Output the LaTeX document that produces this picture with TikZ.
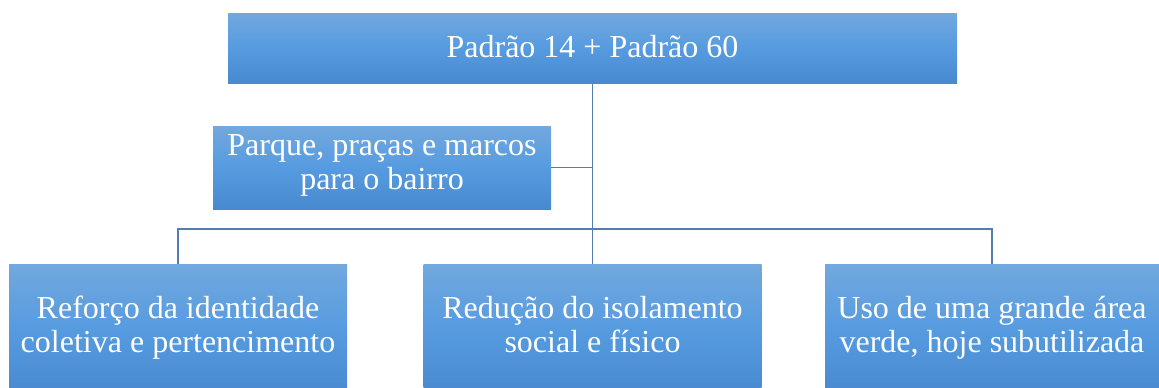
\documentclass[tikz,border=0pt]{standalone}
\usepackage{fontspec}
\setmainfont{Liberation Serif}
\usepackage{tikz}
\usetikzlibrary{calc,positioning}

\definecolor{boxtop}{HTML}{72A8DE}
\definecolor{boxmid}{HTML}{569BE0}
\definecolor{boxbot}{HTML}{4889CF}
\definecolor{linkblue}{HTML}{4F7DB4}

\begin{document}
\begin{tikzpicture}[x=1pt,y=-1pt,
    bloco/.style={top color=boxtop,bottom color=boxbot,middle color=boxmid,text=white,align=center,inner sep=0pt,
      font=\fontsize{32}{34}\selectfont},
    duaslinhas/.style={bloco,execute at begin node=\strut,execute at end node=\strut},
    ligacao/.style={draw=linkblue,line width=1.5pt}]
\useasboundingbox (0,0) rectangle (1159,388);
\node[bloco,minimum width=729,minimum height=70,text height=23,text depth=5] (topo) at (592.5,48) {Padrão 14 + Padrão 60};
\node[duaslinhas,minimum width=338,minimum height=83] (parque) at (382,167.5) {Parque, praças e marcos\\para o bairro};
\node[duaslinhas,minimum width=338,minimum height=130] (reforco) at (178,329) {Reforço da identidade\\coletiva e pertencimento};
\node[duaslinhas,minimum width=338,minimum height=130] (reducao) at (592.5,329) {Redução do isolamento\\social e físico};
\node[duaslinhas,minimum width=334,minimum height=130] (uso) at (992,329) {Uso de uma grande área\\verde, hoje subutilizada};
\coordinate (barra) at (592.5,229);
\draw[ligacao] (topo.south) -- (reducao.north);
\draw[ligacao] (parque.east) -- (parque.east -| topo.south);
\draw[ligacao] (reforco.north) |- (barra) -| (uso.north);
\end{tikzpicture}
\end{document}
